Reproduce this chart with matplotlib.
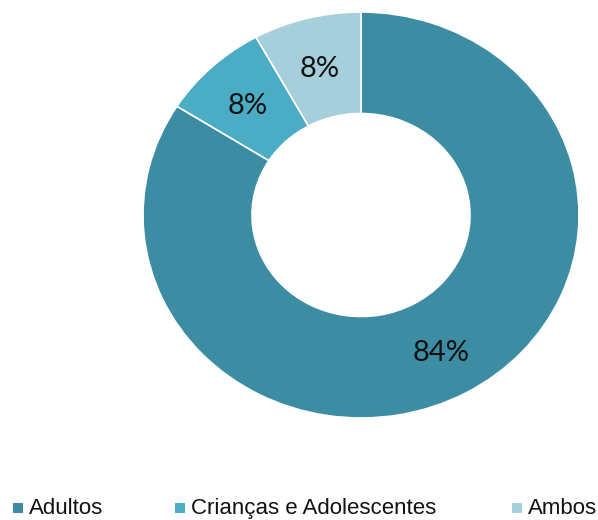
import matplotlib
matplotlib.use("Agg")
import matplotlib.pyplot as plt
import matplotlib.transforms as mtransforms
from matplotlib.patches import Rectangle

categories = ["Adultos", "Crianças e Adolescentes", "Ambos"]
values = [84, 8, 8]
colors = ["#3c8ca4", "#4bacc6", "#a6cfdc"]

W, H = 598, 520
fig = plt.figure(figsize=(W / 100, H / 100), dpi=100)
fig.patch.set_facecolor("white")

# donut area (slightly wider than tall)
left, top, right, bottom = 143, 12, 579, 418
ax = fig.add_axes([left / W, 1 - bottom / H, (right - left) / W, (bottom - top) / H])

wedges, texts, autotexts = ax.pie(
    values,
    colors=colors,
    startangle=90,
    counterclock=False,
    radius=1.0,
    wedgeprops=dict(width=0.5, edgecolor="white", linewidth=1.2),
    autopct=lambda p: f"{p:.0f}%",
    pctdistance=0.76,
    textprops=dict(fontsize=21, family="Lato", color="#111111"),
)
for t in autotexts:
    t.set_transform(mtransforms.offset_copy(t.get_transform(), fig=fig, y=-3, units="dots"))

ax.set_aspect("auto")
ax.set_xlim(-1.0, 1.0)
ax.set_ylim(-1.0, 1.0)
ax.axis("off")

# legend along the bottom
legend_x = [13, 175, 512]
baseline_y = 514
sq = 10
for name, col, x in zip(categories, colors, legend_x):
    fig.patches.append(
        Rectangle((x / W, 1 - (baseline_y - 1) / H), sq / W, sq / H,
                  transform=fig.transFigure, facecolor=col, edgecolor="none")
    )
    fig.text((x + sq + 6) / W, 1 - baseline_y / H, name, fontsize=16,
             family="Liberation Sans", color="#111111", va="baseline", ha="left")

fig.savefig("out.png", dpi=100, facecolor="white")
